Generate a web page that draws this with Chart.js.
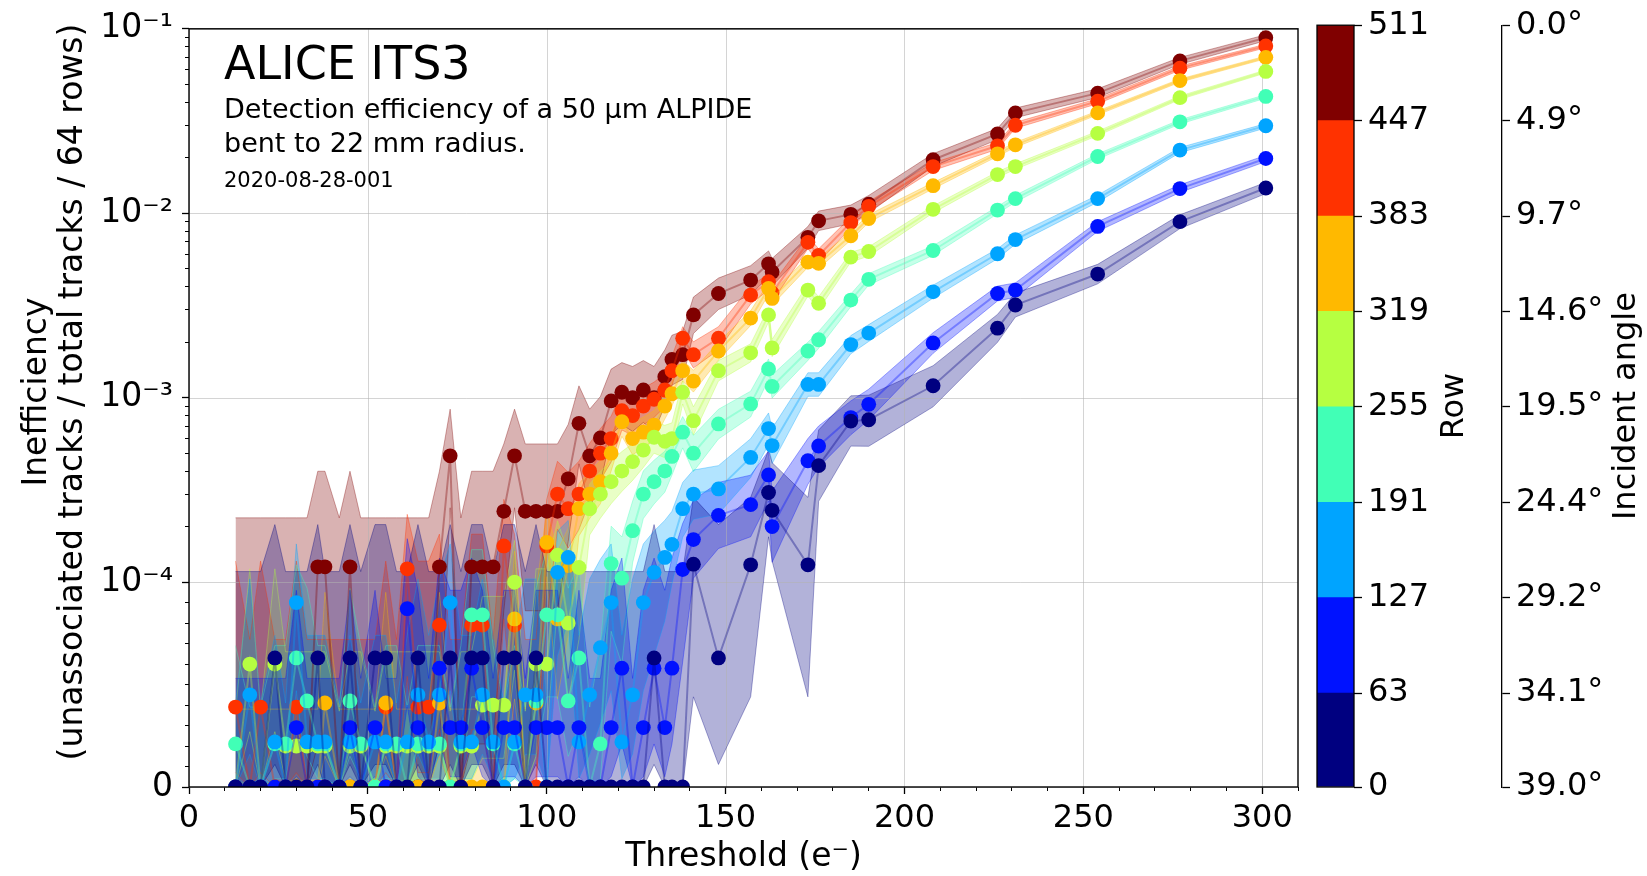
<!DOCTYPE html>
<html><head><meta charset="utf-8">
<script src="https://cdn.jsdelivr.net/npm/chart.js@4.4.1/dist/chart.umd.min.js"></script>
<style>
html,body{margin:0;padding:0;background:#fff;}
#wrap{position:relative;width:1647px;height:876px;overflow:hidden;background:#fff;}
#main{position:absolute;left:0;top:0;width:1647px;height:876px;}
#cbar{position:absolute;left:1300px;top:0;width:347px;height:876px;}
</style></head><body>
<div id="wrap"><canvas id="main" width="1647" height="876"></canvas><canvas id="cbar" width="347" height="876"></canvas></div>
<script>
const FONT = "'DejaVu Sans', 'Liberation Sans', sans-serif";
Chart.defaults.font.family = FONT;
Chart.defaults.color = '#000';

// ---------- texts ----------
const titleText = 'ALICE ITS3';
const subtitleLines = ['Detection efficiency of a 50 \u00b5m ALPIDE', 'bent to 22 mm radius.'];
const runText = '2020-08-28-001';
const xTitle = 'Threshold (e\u207b)';
const yTitle = ['Inefficiency', '(unassociated tracks / total tracks / 64 rows)'];
const cbarTitle = 'Row';
const angleTitle = 'Incident angle';

// ---------- axes ----------
const xMajorTicks = [0, 50, 100, 150, 200, 250, 300];
const xMinorTicks = [0,10,20,30,40,50,60,70,80,90,100,110,120,130,140,150,160,170,180,190,200,210,220,230,240,250,260,270,280,290,300,310];
const yMajorTicks = [0, 1e-4, 1e-3, 1e-2, 1e-1];
const yTickLabels = ['0', '10\u207b\u2074', '10\u207b\u00b3', '10\u207b\u00b2', '10\u207b\u00b9'];
const yMinorTicks = [1e-5,2e-5,3e-5,4e-5,5e-5,6e-5,7e-5,8e-5,9e-5,
  2e-4,3e-4,4e-4,5e-4,6e-4,7e-4,8e-4,9e-4,
  2e-3,3e-3,4e-3,5e-3,6e-3,7e-3,8e-3,9e-3,
  2e-2,3e-2,4e-2,5e-2,6e-2,7e-2,8e-2,9e-2];
const rowEdges = [0, 63, 127, 191, 255, 319, 383, 447, 511];
const angleLabels = ['39.0\u00b0','34.1\u00b0','29.2\u00b0','24.4\u00b0','19.5\u00b0','14.6\u00b0','9.7\u00b0','4.9\u00b0','0.0\u00b0'];

// ---------- data (threshold in e-, inefficiency in units of 1e-6) ----------
const thresholds = [13,17,20,24,27,30,33,36,38,42,45,48,52,55,58,61,64,67,70,73,76,79,82,85,88,91,94,97,100,103,106,109,112,115,118,121,
  124,127,130,133,135,138,141,148,157,162,163,173,176,185,190,208,226,231,254,277,301];

const navyVal = [0,0,0,63,0,0,0,63,0,0, 63,0,63,63,0,0,63,0,0,63, 0,63,63,0,63,63,0,63,0,0, 0,0,0,0,0,0, 0,0,63,0,0,0,125,63,124,306,245,124,428,746,759,1160,2380,3180,4680,9000,13700];
const navyLo = [0,0,0,11,0,0,0,11,0,0, 11,0,11,11,0,0,11,0,0,11, 0,11,11,0,11,11,0,11,0,0, 0,0,0,0,0,0, 0,0,11,0,0,0,44,11,44,176,130,44,274,546,545,892,1996,2736,4141,8254,12776];
const navyHi = [114,114,114,205,114,114,114,205,114,114, 205,114,205,205,114,114,205,114,114,205, 114,205,205,114,205,205,114,205,114,114, 114,114,114,114,114,114, 114,114,205,114,114,114,288,205,288,520,444,288,668,1023,1032,1490,2827,3688,5282,9808,14686];

const blueVal = [0,0,0,0,0,29,0,0,0,0, 29,0,29,0,0,87,29,0,58,29, 29,58,29,0,29,29,0,29,29,29, 0,29,0,0,29,58, 0,29,58,29,58,117,170,230,263,381,200,455,547,780,920,1980,3670,3830,8480,13600,19800];
const blueLo = [0,0,0,0,0,5,0,0,0,0, 5,0,5,0,0,40,5,0,21,5, 5,21,5,0,5,5,0,5,5,5, 0,5,0,0,5,21, 0,5,21,5,21,61,105,152,176,275,128,339,420,629,757,1740,3344,3495,7975,12963,19053];
const blueHi = [53,53,53,53,53,96,53,53,53,53, 96,53,96,53,53,172,96,53,135,96, 96,135,96,53,96,96,53,96,96,96, 53,96,53,53,96,135, 53,96,135,96,135,208,278,347,380,514,312,600,702,960,1111,2250,4025,4190,8990,14268,20590];

const lblueVal = [0,45,0,22,0,90,22,22,22,0, 22,0,22,22,0,22,45,22,45,90, 22,22,45,22,0,22,45,45,0,113, 136,22,45,68,90,22, 45,90,113,136,160,250,300,320,474,680,550,1180,1180,1940,2240,3750,6030,7200,12000,22000,29800];
const lblueLo = [0,16,0,4,0,47,4,4,4,0, 4,0,4,4,0,4,16,4,16,47, 4,4,16,4,0,4,16,16,0,64, 81,4,16,31,47,4, 16,47,64,81,99,175,219,234,369,556,439,1017,1017,1730,2016,3465,5670,6795,11475,21308,28980];
const lblueHi = [41,104,41,74,41,161,74,74,74,41, 74,41,74,74,41,74,104,74,104,161, 74,74,104,74,41,74,104,104,41,189, 216,74,104,133,161,74, 104,161,189,216,242,347,405,428,599,826,682,1364,1364,2171,2489,4073,6413,7628,12533,22725,30623];

const aquaVal = [21,0,0,21,21,63,42,21,21,0, 42,21,0,21,21,0,21,21,21,0, 21,84,84,21,0,21,0,42,84,84, 42,63,0,21,126,105, 190,300,350,400,480,650,500,720,925,1430,1150,1790,2060,3380,4380,6280,10400,12000,20300,31300,43000];
const aquaLo = [4,0,0,4,4,29,15,4,4,0, 15,4,0,4,4,0,4,4,4,0, 4,44,44,4,0,4,0,15,44,44, 15,29,0,4,76,60, 127,221,265,307,380,534,397,597,785,1256,995,1592,1850,3114,4078,5916,9929,11487,19656,30471,42063];
const aquaHi = [69,39,39,69,69,124,97,69,69,39, 97,69,39,69,69,39,69,69,69,39, 69,150,150,69,39,69,39,97,150,150, 97,124,39,69,201,176, 275,401,458,512,603,790,624,865,1084,1621,1327,1999,2287,3648,4704,6663,10882,12516,20979,32130,43974];

const lgreenVal = [0,60,0,60,20,20,20,20,20,0, 20,20,0,20,20,20,20,20,20,0, 20,20,40,40,40,100,0,60,60,140, 80,120,250,300,350,400, 450,520,610,580,600,1070,750,1400,1750,2810,1860,3830,3250,5780,6200,10500,16200,17900,27100,42300,58700];
const lgreenLo = [0,27,0,27,3,3,3,3,3,0, 3,3,0,3,3,3,3,3,3,0, 3,3,14,14,14,57,0,27,27,88, 42,72,180,222,266,310, 356,418,500,472,490,924,628,1232,1562,2572,1668,3554,2996,5440,5848,10040,15630,17300,26360,41380,57620];
const lgreenHi = [37,118,37,118,66,66,66,66,66,37, 66,66,37,66,66,66,66,66,66,37, 66,66,93,93,93,168,37,118,118,215, 143,192,340,398,454,510, 564,642,740,708,730,1236,892,1588,1958,3068,2072,4126,3524,6140,6572,10960,16790,18520,27860,43240,59800];

const orangeVal = [0,0,0,0,0,0,0,0,41,0, 0,0,0,41,0,0,0,0,41,0, 0,0,0,0,0,82,0,41,164,82, 123,250,300,350,500,740, 600,650,710,900,1050,1400,1230,1790,2700,3910,3450,5430,5350,7550,9360,14100,21000,23500,35000,52400,70000];
const orangeLo = [0,0,0,0,0,0,0,0,15,0, 0,0,0,15,0,0,0,0,15,0, 0,0,0,0,0,43,0,15,107,43, 74,178,221,266,400,617, 490,535,588,765,902,1230,1072,1599,2464,3626,3184,5096,5018,7150,8922,13563,20336,22796,34153,51353,68819];
const orangeHi = [38,38,38,38,38,38,38,38,95,38, 38,38,38,95,38,38,38,38,95,38, 38,38,38,38,38,147,38,95,245,147, 196,342,398,455,621,884, 732,785,851,1056,1218,1591,1408,2001,2956,4213,3737,5785,5703,7958,9820,14658,21669,24211,35855,53464,71217];

const redVal = [39,0,39,0,0,39,0,0,0,0, 0,0,0,39,0,118,39,39,79,0, 0,79,79,0,157,79,0,0,157,300, 250,300,400,500,600,850, 800,900,980,1100,1400,2100,1710,2100,3600,4250,3700,6950,5900,8900,10900,17900,23200,30000,40500,61200,80700];
const redLo = [7,0,7,0,0,7,0,0,0,0, 0,0,0,7,0,54,7,7,28,0, 0,28,28,0,82,28,0,0,82,193, 153,193,275,358,448,668, 625,711,782,892,1163,1812,1450,1812,3223,3836,3313,6426,5416,8312,10234,17064,22232,28901,39237,59638,78903];
const redHi = [130,72,130,72,72,130,72,72,72,72, 72,72,72,130,72,233,130,130,182,72, 72,182,182,72,281,182,72,72,281,452, 393,452,566,680,794,1069, 1018,1128,1214,1348,1674,2425,2008,2425,4016,4692,4115,7510,6414,9530,11578,18778,24181,31110,41799,62782,82502];

const darkredVal = [0,0,0,0,0,0,0,121,121,0, 121,0,0,0,0,0,0,0,121,484, 0,121,121,121,242,484,242,242,242,242, 363,726,484,605,960,1070, 1000,1100,1000,1300,1610,1710,2810,3670,4340,5320,4800,7400,9100,9860,11200,19500,26900,35000,44800,67000,89500];
const darkredLo = [0,0,0,0,0,0,0,21,21,0, 21,0,0,0,0,0,0,0,21,253, 0,21,21,21,86,253,86,86,86,86, 166,438,253,344,629,714, 656,734,656,899,1170,1256,2227,3004,3615,4517,4038,6453,8051,8768,10036,17948,25071,32941,42444,64172,86250];
const darkredHi = [223,223,223,223,223,223,223,399,399,223, 399,223,223,223,223,223,223,223,399,866, 223,399,399,399,561,866,561,561,561,561, 716,1159,866,1014,1428,1549, 1476,1589,1476,1815,2180,2290,3510,4450,5195,6247,5688,8467,10270,11073,12484,21019,28850,37178,47277,69949,92870];

const series = [
  {name: 'Rows 0-63',    rgb: [0, 0, 128],     val: navyVal,    lo: navyLo,    hi: navyHi},
  {name: 'Rows 63-127',  rgb: [0, 18, 255],    val: blueVal,    lo: blueLo,    hi: blueHi},
  {name: 'Rows 127-191', rgb: [0, 164, 255],   val: lblueVal,   lo: lblueLo,   hi: lblueHi},
  {name: 'Rows 191-255', rgb: [65, 255, 182],  val: aquaVal,    lo: aquaLo,    hi: aquaHi},
  {name: 'Rows 255-319', rgb: [182, 255, 65],  val: lgreenVal,  lo: lgreenLo,  hi: lgreenHi},
  {name: 'Rows 319-383', rgb: [255, 185, 0],   val: orangeVal,  lo: orangeLo,  hi: orangeHi},
  {name: 'Rows 383-447', rgb: [255, 50, 0],    val: redVal,     lo: redLo,     hi: redHi},
  {name: 'Rows 447-511', rgb: [128, 0, 0],     val: darkredVal, lo: darkredLo, hi: darkredHi}
];

// ---------- symlog scale (matplotlib style, linthresh 1e-4, linscale 1) ----------
class SymLogScale extends Chart.Scale {
  static id = 'symlog';
  static defaults = {};
  determineDataLimits() {
    this.min = this.options.min ?? 0;
    this.max = this.options.max ?? 0.1;
  }
  buildTicks() { return []; }
  _tf(v) {
    const lt = 1e-4, ls = 1 / (1 - 1 / 10);
    const a = Math.abs(v);
    const t = a <= lt ? a / lt * ls : ls + Math.log10(a / lt);
    return v < 0 ? -t : t;
  }
  configure() {
    super.configure();
    this._t0 = this._tf(this.min);
    this._t1 = this._tf(this.max);
  }
  getPixelForValue(v) {
    return this.getPixelForDecimal((this._tf(v) - this._t0) / (this._t1 - this._t0));
  }
  getValueForPixel(p) {
    const lt = 1e-4, ls = 1 / (1 - 1 / 10);
    const t = this._t0 + this.getDecimalForPixel(p) * (this._t1 - this._t0);
    const a = Math.abs(t);
    const v = a <= ls ? a / ls * lt : lt * Math.pow(10, a - ls);
    return t < 0 ? -v : v;
  }
  getLabelForValue(v) { return String(v); }
}
Chart.register(SymLogScale);

const rgba = (c, a) => `rgba(${c[0]},${c[1]},${c[2]},${a})`;
const pts = arr => thresholds.map((x, i) => ({x: x, y: arr[i] * 1e-6}));

const datasets = [];
series.forEach(s => {
  datasets.push({
    label: s.name, data: pts(s.val), borderColor: rgba(s.rgb, 0.35), borderWidth: 2,
    pointRadius: 7.4, pointHoverRadius: 7.4, pointBackgroundColor: rgba(s.rgb, 1), pointBorderWidth: 0,
    fill: false, tension: 0, clip: 0
  });
});
series.forEach((s, k) => {
  const loIndex = datasets.length;
  datasets.push({
    label: s.name + ' low', data: pts(s.lo), borderColor: rgba(s.rgb, 0.35), borderWidth: 1,
    pointRadius: 0, fill: false, tension: 0, clip: 0
  });
  datasets.push({
    label: s.name + ' high', data: pts(s.hi), borderColor: rgba(s.rgb, 0.35), borderWidth: 1,
    backgroundColor: rgba(s.rgb, 0.3), pointRadius: 0, fill: loIndex, tension: 0, clip: 0
  });
});

const xTickFont = {size: 32, family: FONT};
const yTickFont = {size: 33, family: FONT};
const cTickFont = {size: 32, family: FONT};

const overlayPlugin = {
  id: 'overlay',
  beforeDatasetsDraw(chart) {
    const {ctx, chartArea: a, scales} = chart;
    ctx.save();
    ctx.strokeStyle = 'rgba(176,176,176,0.55)';
    ctx.lineWidth = 1;
    xMajorTicks.forEach(v => {
      const p = Math.round(scales.x.getPixelForValue(v)) + 0.5;
      ctx.beginPath(); ctx.moveTo(p, a.top); ctx.lineTo(p, a.bottom); ctx.stroke();
    });
    yMajorTicks.forEach(v => {
      const p = Math.round(scales.y.getPixelForValue(v)) + 0.5;
      ctx.beginPath(); ctx.moveTo(a.left, p); ctx.lineTo(a.right, p); ctx.stroke();
    });
    ctx.restore();
  },
  afterDraw(chart) {
    const {ctx, chartArea: a} = chart;
    ctx.save();
    ctx.strokeStyle = '#000';
    ctx.lineWidth = 1.4;
    ctx.strokeRect(a.left, a.top, a.right - a.left, a.bottom - a.top);
    ctx.fillStyle = '#000';
    ctx.textAlign = 'left';
    ctx.textBaseline = 'alphabetic';
    ctx.font = `46px ${FONT}`;
    ctx.fillText(titleText, 224, 79);
    ctx.font = `27px ${FONT}`;
    ctx.fillText(subtitleLines[0], 224, 118);
    ctx.fillText(subtitleLines[1], 224, 152);
    ctx.font = `21px ${FONT}`;
    ctx.fillText(runText, 224, 187);
    // axis titles
    ctx.font = `33px ${FONT}`;
    ctx.textAlign = 'center';
    ctx.textBaseline = 'middle';
    ctx.fillText(xTitle, (a.left + a.right) / 2, 857);
    ctx.save();
    ctx.translate(37, 392); ctx.rotate(-Math.PI / 2);
    ctx.fillText(yTitle[0], 0, 0);
    ctx.fillText(yTitle[1], 0, 36);
    ctx.restore();
    ctx.restore();
  }
};

new Chart(document.getElementById('main'), {
  type: 'line',
  data: {datasets},
  options: {
    responsive: false, animation: false, devicePixelRatio: 1, events: [],
    layout: {padding: {left: 0, top: 22, right: 349, bottom: 0}},
    plugins: {legend: {display: false}, tooltip: {enabled: false}, filler: {drawTime: 'beforeDatasetsDraw'}},
    scales: {
      x: {
        type: 'linear', position: 'bottom', min: 0, max: 310, weight: 1,
        afterBuildTicks: s => { s.ticks = xMajorTicks.map(v => ({value: v})); },
        ticks: {font: xTickFont, color: '#000', padding: 5, maxRotation: 0, autoSkip: false},
        grid: {display: true, drawOnChartArea: false, drawTicks: true, tickLength: 7, tickWidth: 1.3, tickColor: '#000'},
        border: {display: false},
        afterFit: s => { s.height = 89; }
      },
      xMinor: {
        type: 'linear', position: 'bottom', min: 0, max: 310, weight: 0, display: true,
        afterBuildTicks: s => { s.ticks = xMinorTicks.map(v => ({value: v})); },
        ticks: {display: false},
        grid: {display: true, drawOnChartArea: false, drawTicks: true, tickLength: 4, tickWidth: 1, tickColor: '#000'},
        border: {display: false},
        afterFit: s => { s.height = 0; }
      },
      y: {
        type: 'symlog', position: 'left', min: 0, max: 0.1, weight: 1,
        afterBuildTicks: s => { s.ticks = yMajorTicks.map(v => ({value: v})); },
        ticks: {font: yTickFont, color: '#000', padding: 9, callback: (v, i) => yTickLabels[i], autoSkip: false},
        grid: {display: true, drawOnChartArea: false, drawTicks: true, tickLength: 7, tickWidth: 1.3, tickColor: '#000'},
        border: {display: false},
        afterFit: s => { s.width = 189; }
      },
      yMinor: {
        type: 'symlog', position: 'left', min: 0, max: 0.1, weight: 0, display: true,
        afterBuildTicks: s => { s.ticks = yMinorTicks.map(v => ({value: v})); },
        ticks: {display: false},
        grid: {display: true, drawOnChartArea: false, drawTicks: true, tickLength: 4, tickWidth: 1, tickColor: '#000'},
        border: {display: false},
        afterFit: s => { s.width = 0; }
      }
    }
  },
  plugins: [overlayPlugin]
});

// ---------- colour bar ----------
const cbarPlugin = {
  id: 'cbarDecor',
  afterDraw(chart) {
    const {ctx, chartArea: a} = chart;
    ctx.save();
    ctx.strokeStyle = '#000';
    ctx.lineWidth = 1.3;
    ctx.strokeRect(a.left, a.top, a.right - a.left, a.bottom - a.top);
    ctx.fillStyle = '#000';
    ctx.font = `32px ${FONT}`;
    ctx.textAlign = 'center';
    ctx.textBaseline = 'middle';
    const cy = (a.top + a.bottom) / 2;
    [[cbarTitle, 155], [angleTitle, 327]].forEach(([t, x]) => {
      ctx.save(); ctx.translate(x, cy); ctx.rotate(-Math.PI / 2); ctx.fillText(t, 0, 0); ctx.restore();
    });
    ctx.restore();
  }
};

new Chart(document.getElementById('cbar'), {
  type: 'bar',
  data: {
    labels: ['rows'],
    datasets: series.map((s, k) => ({
      label: s.name, data: [rowEdges[k + 1] - rowEdges[k]], backgroundColor: rgba(s.rgb, 1),
      borderWidth: 0, barPercentage: 1, categoryPercentage: 1, yAxisID: 'y'
    }))
  },
  options: {
    responsive: false, animation: false, devicePixelRatio: 1, events: [],
    layout: {padding: {left: 17, top: 22, right: 0, bottom: 89}},
    plugins: {legend: {display: false}, tooltip: {enabled: false}},
    scales: {
      x: {display: false, stacked: true},
      y: {
        stacked: true, position: 'right', min: 0, max: 511, weight: 0,
        afterBuildTicks: s => { s.ticks = rowEdges.map(v => ({value: v})); },
        ticks: {font: cTickFont, color: '#000', padding: 6, autoSkip: false},
        grid: {display: true, drawOnChartArea: false, drawTicks: true, tickLength: 8, tickWidth: 1.3, tickColor: '#000'},
        border: {display: false},
        afterFit: s => { s.width = 148; }
      },
      yAngle: {
        type: 'linear', position: 'right', min: 0, max: 511, weight: 1, display: true,
        afterBuildTicks: s => { s.ticks = rowEdges.map(v => ({value: v})); },
        ticks: {font: cTickFont, color: '#000', padding: 6, autoSkip: false, callback: (v, i) => angleLabels[i]},
        grid: {display: true, drawOnChartArea: false, drawTicks: true, tickLength: 8, tickWidth: 1.3, tickColor: '#000'},
        border: {display: true, color: '#000', width: 1.3},
        afterFit: s => { s.width = 145; }
      }
    }
  },
  plugins: [cbarPlugin]
});
</script></body></html>
